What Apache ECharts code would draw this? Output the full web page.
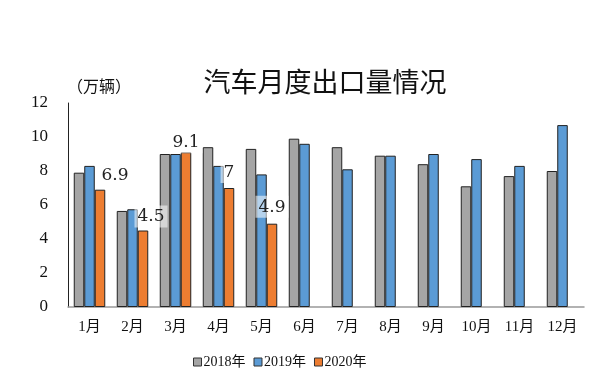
<!DOCTYPE html>
<html><head><meta charset="utf-8">
<script src="https://cdn.jsdelivr.net/npm/echarts@6/dist/echarts.min.js"></script>
<style>html,body{margin:0;padding:0;background:#fff}#c{width:612px;height:384px}</style>
</head><body><div id="c"></div>
<script>
const months = ['1月','2月','3月','4月','5月','6月','7月','8月','9月','10月','11月','12月'];
const s2018 = [7.9, 5.65, 9.0, 9.4, 9.3, 9.9, 9.4, 8.9, 8.4, 7.1, 7.7, 8.0];
const s2019 = [8.3, 5.75, 9.0, 8.3, 7.8, 9.6, 8.1, 8.9, 9.0, 8.7, 8.3, 10.7];
const s2020 = [6.9, 4.5, 9.1, 7.0, 4.9, null, null, null, null, null, null, null];
const yTicks = [0, 2, 4, 6, 8, 10, 12];
const seriesNames = ['2018年','2019年','2020年'];
const colors = ['#A5A5A5','#5B9BD5','#ED7D31'];

const serif = '"Liberation Serif","Noto Sans CJK SC",serif';
const labelOffsets = [[15,1],[8,2],[0,6],[0,0],[0,-1]];
const chart = echarts.init(document.getElementById('c'));
const mk = (name, data, i) => ({
  name, type: 'bar', data: data.map((v, k) => {
    if (i === 2 && v != null) {
      return { value: v, label: { show: true, offset: labelOffsets[k] } };
    }
    return v;
  }),
  barWidth: 10.5,
  barGap: '0%',
  itemStyle: { color: colors[i], borderColor: '#222', borderWidth: 1 },
  label: {
    show: false, position: 'top', distance: 5,
    fontFamily: '"DejaVu Serif",serif', fontSize: 17, color: '#222',
    backgroundColor: 'rgba(255,255,255,0.55)', padding: [3, 3, 2, 3],
    formatter: p => String(p.value)
  }
});
chart.setOption({
  animation: false,
  title: [
    { text: '汽车月度出口量情况', left: 320, top: 63, textAlign: 'center',
      textStyle: { fontFamily: '"Noto Sans CJK SC"', fontSize: 27, fontWeight: 'normal', color: '#111' } },
    { text: '（万辆）', left: 62, top: 73,
      textStyle: { fontFamily: '"Noto Sans CJK SC"', fontSize: 16, fontWeight: 'normal', color: '#111' } }
  ],
  legend: {
    data: seriesNames, bottom: 10, left: 188, icon: 'rect',
    itemWidth: 8, itemHeight: 8, itemGap: 8,
    itemStyle: { borderColor: '#333', borderWidth: 1 },
    textStyle: { fontFamily: serif, fontSize: 14, color: '#111', padding: [0,0,0,-3] }
  },
  grid: { left: 68, right: 28, top: 103, bottom: 77 },
  xAxis: {
    type: 'category', data: months,
    axisLine: { lineStyle: { color: '#999', width: 1.5 } },
    axisTick: { show: false },
    axisLabel: { fontFamily: serif, fontSize: 15, color: '#111', margin: 13 }
  },
  yAxis: {
    type: 'value', min: yTicks[0], max: yTicks[yTicks.length - 1], interval: 2,
    axisLine: { show: true, lineStyle: { color: '#222', width: 1 } },
    axisTick: { show: false },
    splitLine: { show: false },
    axisLabel: { fontFamily: serif, fontSize: 17, color: '#111', margin: 20 }
  },
  series: [mk(seriesNames[0], s2018, 0), mk(seriesNames[1], s2019, 1), mk(seriesNames[2], s2020, 2)]
});
</script></body></html>
